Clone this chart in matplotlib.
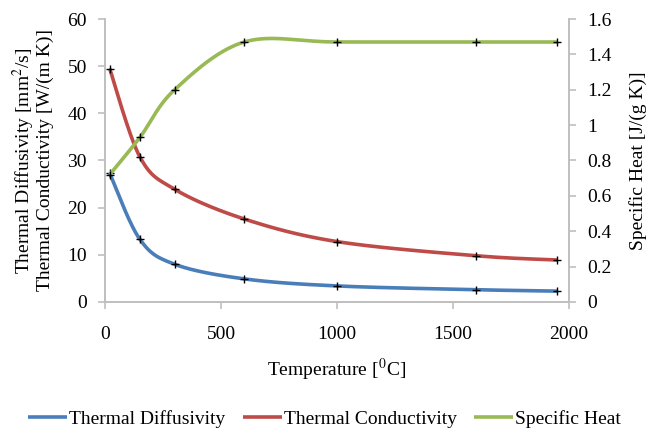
import matplotlib
matplotlib.use("Agg")
import matplotlib.pyplot as plt
import numpy as np
from matplotlib.ticker import FuncFormatter, MultipleLocator

# temperatures [C]
temperature = [20, 150, 300, 600, 1000, 1600, 1950]
diffusivity = [27.3, 13.3, 8.0, 4.9, 3.4, 2.6, 2.3]
conductivity = [49.5, 30.8, 23.9, 17.6, 12.8, 9.8, 8.9]
specific_heat = [0.72, 0.93, 1.2, 1.47, 1.47, 1.47, 1.47]

plt.rcParams["font.family"] = ["Liberation Serif", "DejaVu Serif"]
plt.rcParams["mathtext.fontset"] = "stix"
plt.rcParams["font.size"] = 14

BLUE = "#4A7EBB"
RED = "#BE4B48"
GREEN = "#98B954"
AXIS_GREY = "#BFBFBF"


def smooth(xs, ys, n=40):
    """Excel-like smoothed line: cubic Bezier with Catmull-Rom control points."""
    pts = np.column_stack([xs, ys]).astype(float)
    out = []
    for i in range(len(pts) - 1):
        p0 = pts[i - 1] if i > 0 else pts[i]
        p1 = pts[i]
        p2 = pts[i + 1]
        p3 = pts[i + 2] if i + 2 < len(pts) else pts[i + 1]
        c1 = p1 + (p2 - p0) / 6.0
        c2 = p2 - (p3 - p1) / 6.0
        t = np.linspace(0, 1, n)[:, None]
        seg = ((1 - t) ** 3) * p1 + 3 * ((1 - t) ** 2) * t * c1 \
            + 3 * (1 - t) * t ** 2 * c2 + t ** 3 * p2
        out.append(seg if i == 0 else seg[1:])
    out = np.vstack(out)
    return out[:, 0], out[:, 1]


fig = plt.figure(figsize=(6.49, 4.32), dpi=100)
ax = fig.add_axes([0.1618, 0.301, 0.8767 - 0.1618, 0.956 - 0.301])
ax2 = ax.twinx()

sx, sy = smooth(temperature, diffusivity)
l1, = ax.plot(sx, sy, color=BLUE, lw=2.6, solid_capstyle="butt", label="Thermal Diffusivity")
ax.plot(temperature, diffusivity, ls="none", marker="+", ms=6, mew=1.0, color="black")

sx, sy = smooth(temperature, conductivity)
l2, = ax.plot(sx, sy, color=RED, lw=2.6, solid_capstyle="butt", label="Thermal Conductivity")
ax.plot(temperature, conductivity, ls="none", marker="+", ms=6, mew=1.0, color="black")

sx, sy = smooth(temperature, specific_heat)
l3, = ax2.plot(sx, sy, color=GREEN, lw=2.6, solid_capstyle="butt", label="Specific Heat")
ax2.plot(temperature, specific_heat, ls="none", marker="+", ms=6, mew=1.0, color="black")

# ---------- axes ----------
ax.set_xlim(0, 2000)
ax.set_ylim(0, 60)
ax2.set_ylim(0, 1.6)
ax.xaxis.set_major_locator(MultipleLocator(500))
ax.yaxis.set_major_locator(MultipleLocator(10))
ax2.yaxis.set_major_locator(MultipleLocator(0.2))
ax2.yaxis.set_major_formatter(FuncFormatter(lambda v, p: f"{v:g}"))

for a in (ax, ax2):
    a.spines["top"].set_visible(False)
    for side in ("left", "right", "bottom"):
        a.spines[side].set_color(AXIS_GREY)
        a.spines[side].set_linewidth(1.2)
    a.tick_params(color=AXIS_GREY, length=5, width=1.2, labelsize=14, direction="out")
ax.tick_params(axis="x", pad=12)
ax.tick_params(axis="y", pad=8)
ax2.tick_params(axis="y", pad=8)

ax.set_xlabel(r"Temperature [$^{0}$C]", fontsize=14, labelpad=10)
ax.set_ylabel("Thermal Diffusivity [mm$^2$/s]\nThermal Conductivity [W/(m K)]",
              fontsize=14, multialignment="center", linespacing=1.0)
ax.yaxis.set_label_coords(-0.11, 0.5)
ax2.set_ylabel("Specific Heat [J/(g K)]", fontsize=14)
ax2.yaxis.set_label_coords(1.13, 0.5)

fig.legend(handles=[l1, l2, l3], loc="center", bbox_to_anchor=(0.5, 0.03),
           ncol=3, frameon=False, fontsize=14, handlelength=2.0,
           handletextpad=0.1, columnspacing=0.9)

fig.savefig("out.png", dpi=100)
